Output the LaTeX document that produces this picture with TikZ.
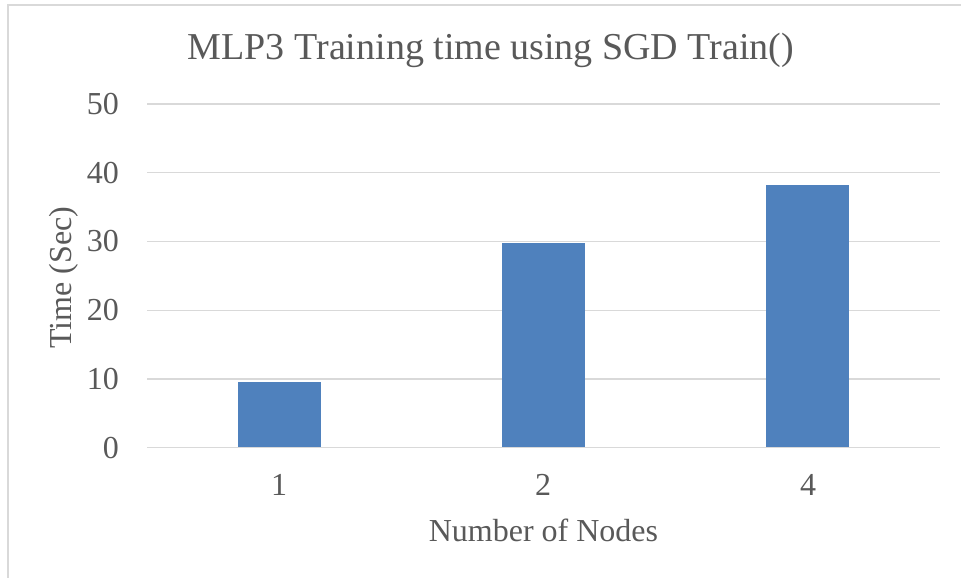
\documentclass[tikz,border=0pt]{standalone}
\usepackage{fontspec}
\setmainfont{Liberation Serif}
\definecolor{barblue}{HTML}{4F81BD}
\definecolor{gridgray}{HTML}{D9D9D9}
\definecolor{textgray}{HTML}{595959}
\begin{document}
\begin{tikzpicture}[x=1pt,y=-1pt]
\tikzstyle{every node}+=[inner sep=0pt,text=textgray]
\tikzstyle{grid line}=[draw=gridgray,line width=1.2pt]
\tikzstyle{bar}=[fill=barblue]
\tikzstyle{tick label}=[font=\rmfamily\fontsize{32}{36}\selectfont]
\useasboundingbox (0,0) rectangle (961,578);
\fill [white] (0,0) rectangle (961,578);
% chart frame
\coordinate (frame tl) at (8,5);
\coordinate (frame tr) at (961,5);
\coordinate (frame bl) at (8,578);
\draw [gridgray,line width=1.2pt] (frame tr) -- (frame tl) -- (frame bl);
% title
\draw (491,59.3) node [anchor=base,font=\rmfamily\fontsize{38}{42}\selectfont] (title) {MLP3 Training time using SGD Train()};
% gridlines and y labels
\coordinate (g0l) at (147,447.7);  \coordinate (g0r) at (940,447.7);
\coordinate (g1l) at (147,378.95); \coordinate (g1r) at (940,378.95);
\coordinate (g2l) at (147,310.2);  \coordinate (g2r) at (940,310.2);
\coordinate (g3l) at (147,241.45); \coordinate (g3r) at (940,241.45);
\coordinate (g4l) at (147,172.7);  \coordinate (g4r) at (940,172.7);
\coordinate (g5l) at (147,103.95); \coordinate (g5r) at (940,103.95);
\draw [grid line] (g1l) -- (g1r);
\draw [grid line] (g2l) -- (g2r);
\draw [grid line] (g3l) -- (g3r);
\draw [grid line] (g4l) -- (g4r);
\draw [grid line] (g5l) -- (g5r);
\draw (119,447.7) node [anchor=east,tick label] (y0) {0};
\draw (119,378.95) node [anchor=east,tick label] (y10) {10};
\draw (119,310.2) node [anchor=east,tick label] (y20) {20};
\draw (119,241.45) node [anchor=east,tick label] (y30) {30};
\draw (119,172.7) node [anchor=east,tick label] (y40) {40};
\draw (119,103.95) node [anchor=east,tick label] (y50) {50};
% bars
\fill [bar] (237.5,447.7) rectangle (320.5,382);
\fill [bar] (501.5,447.7) rectangle (584.5,243.3);
\fill [bar] (766,447.7) rectangle (849,185.3);
\draw [grid line] (g0l) -- (g0r);
% x labels
\draw (279,495) node [anchor=base,tick label] (x1) {1};
\draw (543,495) node [anchor=base,tick label] (x2) {2};
\draw (808,495) node [anchor=base,tick label] (x4) {4};
% axis titles
\draw (543.5,541) node [anchor=base,tick label] (xtitle) {Number of Nodes};
\draw (64,277.5) node [rotate=90,tick label] (ytitle) {Time (Sec)};
\end{tikzpicture}
\end{document}
